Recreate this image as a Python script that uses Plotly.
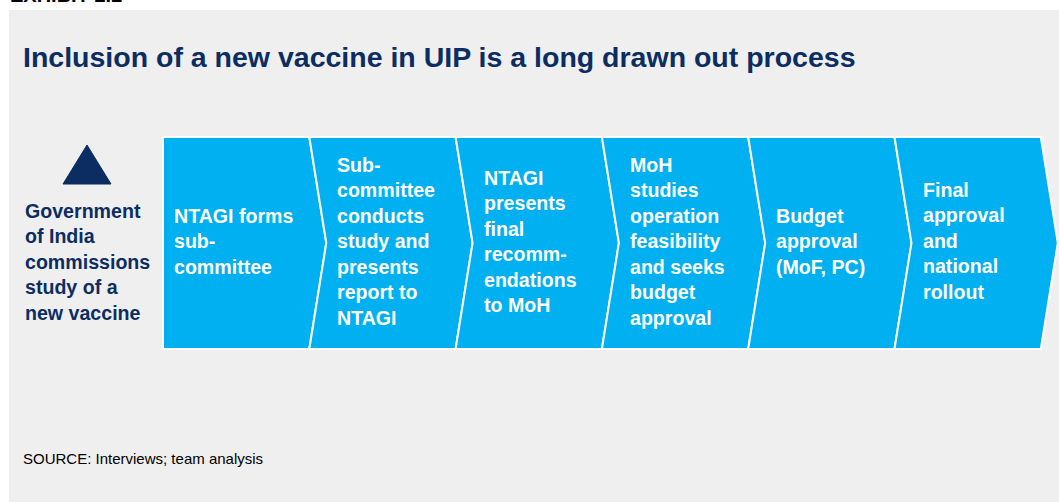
import plotly.graph_objects as go

# Content of the exhibit
exhibit_label = "EXHIBIT 2.2"
title = "Inclusion of a new vaccine in UIP is a long drawn out process"
start_label = ["Government", "of India", "commissions", "study of a", "new vaccine"]
steps = [
    ["NTAGI forms", "sub-", "committee"],
    ["Sub-", "committee", "conducts", "study and", "presents", "report to", "NTAGI"],
    ["NTAGI", "presents", "final", "recomm-", "endations", "to MoH"],
    ["MoH", "studies", "operation", "feasibility", "and seeks", "budget", "approval"],
    ["Budget", "approval", "(MoF, PC)"],
    ["Final", "approval", "and", "national", "rollout"],
]
source = "SOURCE: Interviews; team analysis"

W, H = 1059, 502
NAVY = "#0B2D62"
BLUE = "#00B0F0"
GREY = "#EFEFEF"
FONT = "Arial, Liberation Sans, sans-serif"

# chevron geometry (pixels)
x0, pitch, tip = 163, 146.3, 17
top, bottom = 137, 349
mid = (top + bottom) / 2


def bold_lines(lines):
    return "<br>".join("<b>" + s + "</b>" for s in lines)


fig = go.Figure()

for i, lines in enumerate(steps):
    left = x0 + i * pitch
    right = left + pitch
    xs = [left, right, right + tip, right, left]
    ys = [top, top, mid, bottom, bottom]
    if i > 0:
        xs.append(left + tip)
        ys.append(mid)
    xs.append(left)
    ys.append(top)
    fig.add_trace(go.Scatter(x=xs, y=ys, mode="lines", fill="toself",
                             fillcolor=BLUE, line=dict(color="white", width=2),
                             hoverinfo="skip"))
    tx = left + (tip if i > 0 else 0) + 9
    fig.add_annotation(x=tx, y=mid - 2, xref="x", yref="y", text=bold_lines(lines),
                       showarrow=False, xanchor="left", yanchor="middle", align="left",
                       font=dict(family=FONT, size=19.6, color="white"))

# triangle marker for the starting step
fig.add_trace(go.Scatter(x=[63, 87, 111, 63], y=[184, 145, 184, 184], mode="lines",
                         fill="toself", fillcolor=NAVY, line=dict(color=NAVY, width=1),
                         hoverinfo="skip"))

fig.add_annotation(x=23, y=262, xref="x", yref="y", text=bold_lines(start_label),
                   showarrow=False, xanchor="left", yanchor="middle", align="left",
                   font=dict(family=FONT, size=19.6, color=NAVY))

fig.add_annotation(x=21, y=57, xref="x", yref="y", text="<b>" + title + "</b>",
                   showarrow=False, xanchor="left", yanchor="middle",
                   font=dict(family=FONT, size=28.5, color=NAVY))

fig.add_annotation(x=21, y=458, xref="x", yref="y", text=source,
                   showarrow=False, xanchor="left", yanchor="middle",
                   font=dict(family=FONT, size=15, color="black"))

# header label cut off at the top edge of the page
fig.add_annotation(x=8 / W, y=1 + 5 / H, xref="paper", yref="paper",
                   text="<b>" + exhibit_label + "</b>",
                   showarrow=False, xanchor="left", yanchor="middle",
                   font=dict(family=FONT, size=20, color="black"))

fig.update_layout(
    width=W, height=H,
    margin=dict(l=0, r=0, t=0, b=0),
    paper_bgcolor="white", plot_bgcolor="white",
    showlegend=False,
    shapes=[dict(type="rect", xref="x", yref="y", x0=9, x1=W, y0=10, y1=H,
                 fillcolor=GREY, line=dict(width=0), layer="below")],
    xaxis=dict(range=[0, W], visible=False, fixedrange=True),
    yaxis=dict(range=[H, 0], visible=False, fixedrange=True),
)

fig.write_html("out.html", config={"displayModeBar": False},
               post_script="document.body.style.margin='0px';document.body.style.overflow='hidden';")
